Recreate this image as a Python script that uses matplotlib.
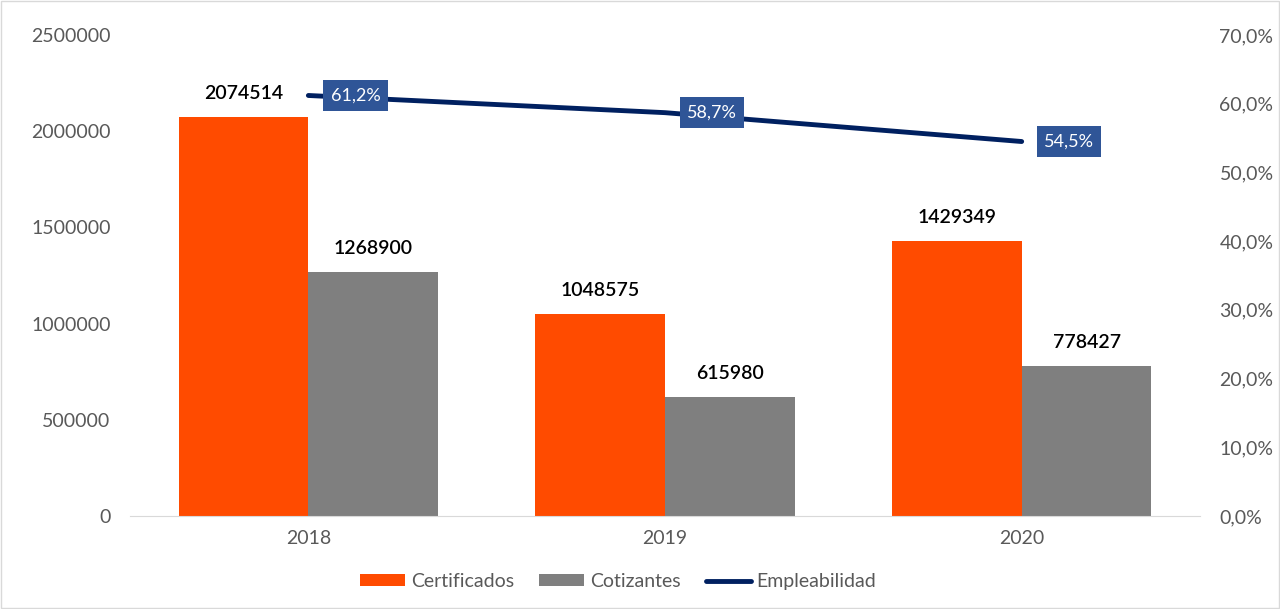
import matplotlib.pyplot as plt
import numpy as np
from matplotlib.ticker import FuncFormatter

years = ["2018", "2019", "2020"]
certificados = [2074514, 1048575, 1429349]
cotizantes = [1268900, 615980, 778427]
empleabilidad = [0.612, 0.587, 0.545]

orange = "#FF4B00"
gray = "#7F7F7F"
navy = "#002060"
box_blue = "#2F5597"
text_gray = "#595959"

plt.rcParams['font.family'] = ['Lato', 'DejaVu Sans']

fig = plt.figure(figsize=(12.8, 6.09), dpi=100)
ax = fig.add_axes([0.1016, 0.1527, 0.8359, 0.7898])
ax2 = ax.twinx()

x = np.arange(len(years))
w = 0.364
b1 = ax.bar(x - w / 2, certificados, w, color=orange, label="Certificados")
b2 = ax.bar(x + w / 2, cotizantes, w, color=gray, label="Cotizantes")

for bars in (b1, b2):
    for rect in bars:
        ax.annotate(str(int(rect.get_height())),
                    (rect.get_x() + rect.get_width() / 2, rect.get_height()),
                    xytext=(0, 11), textcoords="offset points",
                    ha="center", va="bottom", fontsize=14,
                    fontweight="semibold", color="black")

ax.set_xlim(-0.5, 2.5)
ax.set_ylim(0, 2500000)
ax.set_yticks(np.arange(0, 2500001, 500000))
ax.yaxis.set_major_formatter(FuncFormatter(lambda v, p: "%d" % v))
ax.set_xticks(x)
ax.set_xticklabels(years)

ln, = ax2.plot(x, empleabilidad, color=navy, linewidth=3.5,
               solid_capstyle="round", label="Empleabilidad")
ax2.set_ylim(0, 0.7)
ax2.set_yticks(np.arange(0, 0.71, 0.1))
ax2.yaxis.set_major_formatter(
    FuncFormatter(lambda v, p: ("%.1f%%" % (v * 100)).replace(".", ",")))

for xi, v in zip(x, empleabilidad):
    ax2.annotate(("%.1f%%" % (v * 100)).replace(".", ","), (xi, v),
                 xytext=(16, 0), textcoords="offset points",
                 ha="left", va="center", fontsize=13, color="white",
                 bbox=dict(boxstyle="square,pad=0.4", fc=box_blue, ec="none"))

for a in (ax, ax2):
    for s in ("top", "left", "right"):
        a.spines[s].set_visible(False)
    a.tick_params(length=0, labelsize=14, labelcolor=text_gray)
ax.spines["bottom"].set_visible(False)
ax2.spines["bottom"].set_color("#D9D9D9")
ax.tick_params(axis="y", pad=14)
ax.tick_params(axis="x", pad=10)
ax2.tick_params(axis="y", pad=14)

fig.legend(handles=[b1, b2, ln], loc="center", bbox_to_anchor=(0.483, 0.045),
           ncol=3, frameon=False, fontsize=14, handlelength=2.3,
           handleheight=0.6, handletextpad=0.3, columnspacing=1.3,
           labelcolor=text_gray)

fig.patches.append(plt.Rectangle((0.001, 0.001), 0.998, 0.997,
                                 transform=fig.transFigure, fill=False,
                                 ec="#D9D9D9", lw=1))

fig.savefig("out.png", dpi=100)
